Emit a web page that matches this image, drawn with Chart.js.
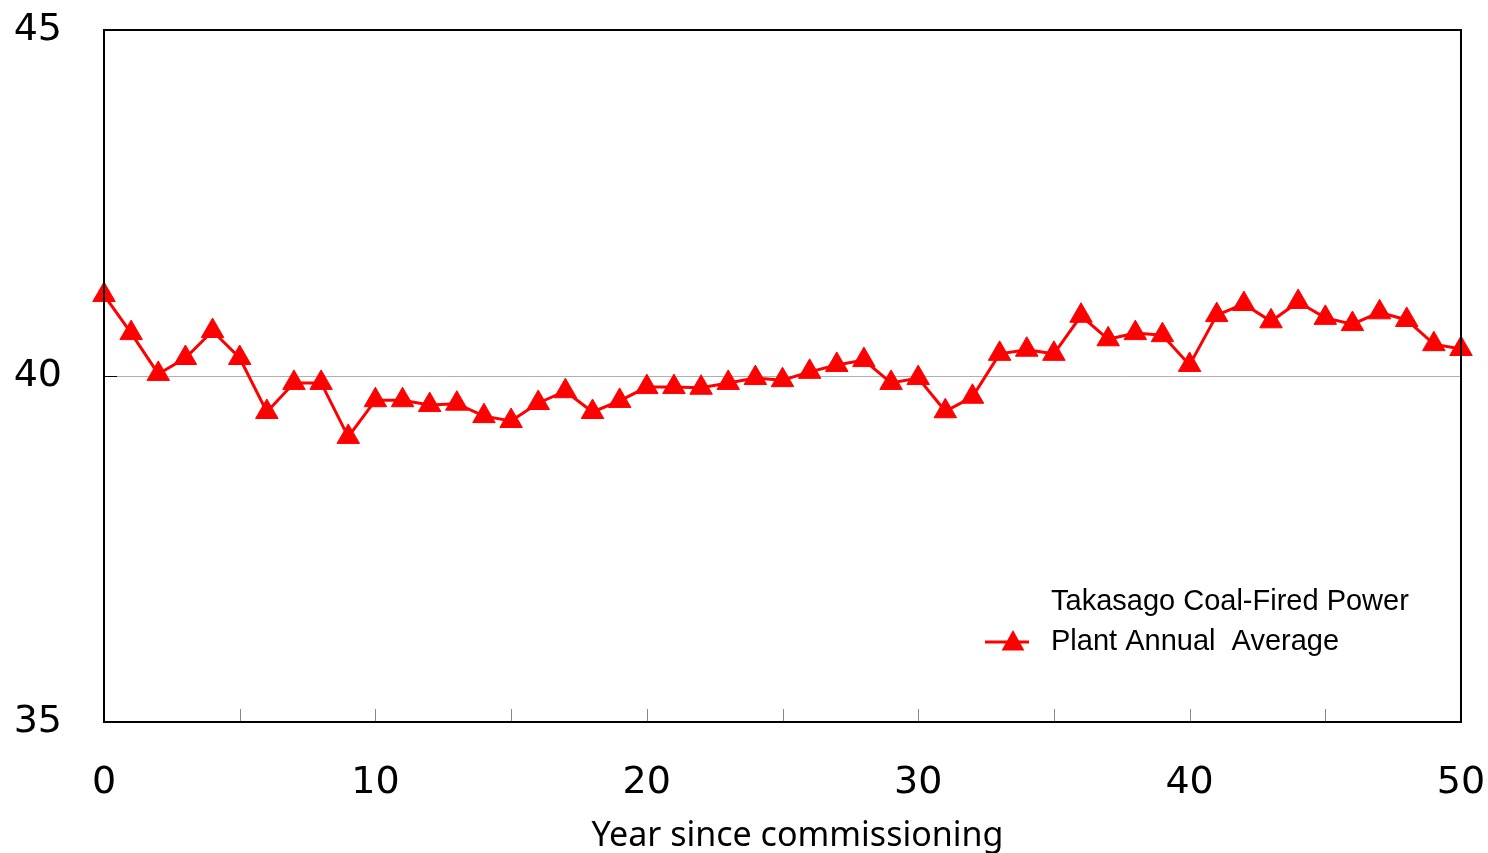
<!DOCTYPE html>
<html>
<head>
<meta charset="utf-8">
<script src="https://cdn.jsdelivr.net/npm/chart.js@4.4.1/dist/chart.umd.min.js"></script>
<style>
html,body{margin:0;padding:0;background:#fff;}
#wrap{width:1488px;height:853px;position:relative;}
</style>
</head>
<body>
<div id="wrap"><canvas id="c" width="1488" height="853"></canvas></div>
<script>
const years = [0,1,2,3,4,5,6,7,8,9,10,11,12,13,14,15,16,17,18,19,20,21,22,23,24,25,26,27,28,29,30,31,32,33,34,35,36,37,38,39,40,41,42,43,44,45,46,47,48,49,50];
const efficiency = [41.17,40.62,40.03,40.26,40.65,40.26,39.48,39.90,39.90,39.12,39.65,39.65,39.58,39.60,39.42,39.35,39.61,39.78,39.48,39.64,39.84,39.84,39.83,39.90,39.97,39.94,40.06,40.16,40.23,39.90,39.97,39.49,39.70,40.32,40.38,40.32,40.87,40.53,40.62,40.59,40.16,40.88,41.04,40.79,41.07,40.84,40.75,40.92,40.81,40.46,40.39];
const seriesLabel = ["Takasago Coal-Fired Power", "Plant Annual  Average"];
const xTitle = "Year since commissioning";
const yMin = 35, yMax = 45, yStep = 5;
const xMin = 0, xMax = 50, xStep = 5;

const points = years.map((x,i)=>({x:x, y:efficiency[i]}));

const framePlugin = {
  id:'frame',
  afterDatasetsDraw(chart){
    const ctx = chart.ctx, a = chart.chartArea;
    const xs = chart.scales.x, ys = chart.scales.y;
    ctx.save();
    ctx.strokeStyle = '#888';
    ctx.lineWidth = 1;
    for(let v=xMin+xStep; v<xMax; v+=xStep){
      const px = Math.round(xs.getPixelForValue(v))+0.5;
      ctx.beginPath(); ctx.moveTo(px,a.bottom); ctx.lineTo(px,a.bottom-13); ctx.stroke();
    }
    ctx.strokeStyle = '#000';
    for(let v=yMin+yStep; v<yMax; v+=yStep){
      const py = Math.round(ys.getPixelForValue(v))+0.5;
      ctx.beginPath(); ctx.moveTo(a.left,py); ctx.lineTo(a.left+13,py); ctx.stroke();
    }
    ctx.lineWidth = 2;
    ctx.strokeRect(a.left, a.top, a.right-a.left, a.bottom-a.top);
    ctx.restore();
  },
  afterDraw(chart){
    const ctx = chart.ctx, a = chart.chartArea;
    const ds = chart.data.datasets[0];
    const lx = a.right - 476, ly = a.bottom - 80;
    ctx.save();
    ctx.strokeStyle = ds.borderColor;
    ctx.lineWidth = ds.borderWidth;
    ctx.beginPath(); ctx.moveTo(lx, ly); ctx.lineTo(lx+44, ly); ctx.stroke();
    ctx.fillStyle = ds.pointBackgroundColor;
    const r = 12, cx = lx+28, cy = ly;
    ctx.beginPath();
    ctx.moveTo(cx, cy - r);
    ctx.lineTo(cx + r*0.95, cy + r*0.7);
    ctx.lineTo(cx - r*0.95, cy + r*0.7);
    ctx.closePath(); ctx.fill();
    ctx.fillStyle = '#000';
    ctx.font = '29px "Liberation Sans", Arial, sans-serif';
    ctx.textBaseline = 'middle';
    ctx.textAlign = 'left';
    ctx.fillText(seriesLabel[0], lx+66, ly-40);
    ctx.fillText(seriesLabel[1], lx+66, ly);
    ctx.font = '34px "Noto Sans", "Open Sans", sans-serif';
    ctx.textAlign = 'center';
    ctx.fillText(xTitle, (a.left+a.right)/2 + 15, a.bottom + 114);
    ctx.restore();
  }
};

new Chart(document.getElementById('c'), {
  type:'line',
  data:{
    datasets:[{
      label: seriesLabel.join(' '),
      data: points,
      borderColor:'#FF0000',
      backgroundColor:'#FF0000',
      pointBackgroundColor:'#FF0000',
      pointBorderColor:'#FF0000',
      borderWidth:3,
      pointStyle:'triangle',
      pointRadius:13,
      pointBorderWidth:1,
      tension:0,
      clip:false
    }]
  },
  options:{
    responsive:false,
    animation:false,
    devicePixelRatio:1,
    layout:{autoPadding:false, padding:{left:14,right:27,top:30,bottom:0}},
    plugins:{legend:{display:false},tooltip:{enabled:false}},
    scales:{
      x:{
        type:'linear', min:xMin, max:xMax,
        border:{display:false},
        grid:{display:false, drawTicks:false},
        afterFit:(s)=>{ s.height = 131; s.paddingLeft = 0; s.paddingRight = 0; },
        ticks:{
          stepSize:xStep, padding:38, color:'#000',
          font:{family:'"DejaVu Sans", Verdana, sans-serif', size:38},
          maxRotation:0, autoSkip:false,
          callback:(v)=> (v%10===0 ? String(v) : '')
        }
      },
      y:{
        min:yMin, max:yMax,
        border:{display:false},
        afterFit:(s)=>{ s.width = 90; s.paddingTop = 0; s.paddingBottom = 0; },
        grid:{drawTicks:false, lineWidth:1,
          color:(c)=> (c.tick && c.tick.value===40 ? '#b0b0b0' : 'rgba(0,0,0,0)')},
        ticks:{stepSize:yStep, padding:42, color:'#000',
          font:{family:'"DejaVu Sans", Verdana, sans-serif', size:38}}
      }
    }
  },
  plugins:[framePlugin]
});
</script>
</body>
</html>
